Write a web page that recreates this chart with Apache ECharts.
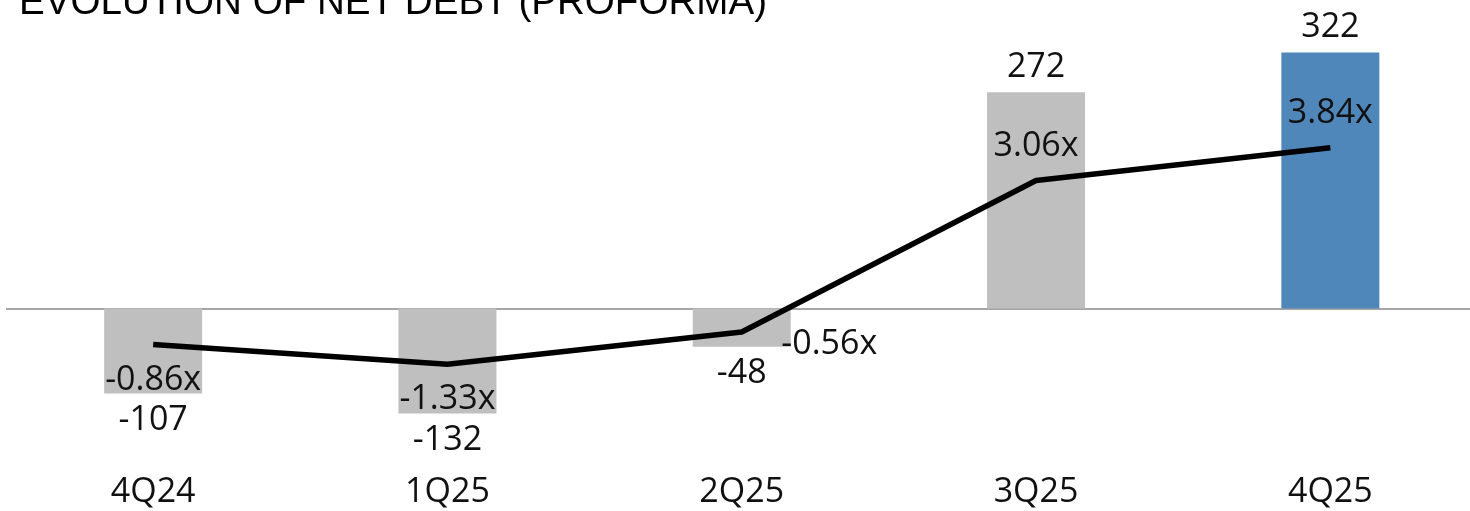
<!DOCTYPE html>
<html>
<head>
<meta charset="utf-8">
<script src="https://cdn.jsdelivr.net/npm/echarts@6/dist/echarts.min.js"></script>
<style>
  html, body { margin: 0; padding: 0; background: #fff; }
  #chart { width: 1470px; height: 511px; }
</style>
</head>
<body>
<div id="chart"></div>
<script>
// quarters and values
const quarters = ['4Q24', '1Q25', '2Q25', '3Q25', '4Q25']
const netDebt = [-107, -132, -48, 272, 322]
const leverage = [-0.86, -1.33, -0.56, 3.06, 3.84]

const chart = echarts.init(document.getElementById('chart'))
const textFont = '"Open Sans", "Noto Sans", sans-serif'

// positive bars get label above, negative below; last bar highlighted
const barData = netDebt.map((v, i) => ({
  value: v,
  itemStyle: { color: i === netDebt.length - 1 ? '#4F87BB' : '#BFBFBF' },
  label: v >= 0 ? { position: 'top', distance: 8 } : { position: 'bottom', distance: 10 },
}))

// ratio labels: below for the first two, right of the point for 2Q25, above after
const lineData = leverage.map((v, i) => {
  let label
  if (i < 2) label = { position: 'bottom', distance: 18 }
  else if (i === 2) label = { position: 'right', distance: 39, offset: [0, 12] }
  else label = { position: 'top', distance: 17 }
  return { value: v, label }
})

const option = {
  animation: false,
  graphic: [
    {
      type: 'text',
      left: 19,
      top: -16,
      style: {
        text: 'EVOLUTION OF NET DEBT (PROFORMA)',
        font: '38.6px "Liberation Sans", Arial, sans-serif',
        fill: '#000',
      },
    },
  ],
  grid: { left: 6, width: 1471.5, top: 30.25, bottom: 83.25, outerBoundsMode: 'none', containLabel: false },
  xAxis: {
    type: 'category',
    data: quarters,
    axisLine: { show: false, onZero: false },
    axisTick: { show: false },
    axisLabel: { margin: 48, fontSize: 34, fontFamily: textFont, color: '#111' },
  },
  yAxis: [
    { type: 'value', min: -150, max: 350, show: false, splitLine: { show: false } },
    { type: 'value', min: -2.85, max: 6.65, show: false, splitLine: { show: false } },
  ],
  series: [
    {
      name: 'Net debt',
      type: 'bar',
      barWidth: 98,
      data: barData,
      label: {
        show: true,
        fontSize: 34,
        fontFamily: textFont,
        color: '#111',
      },
      markLine: {
        silent: true,
        symbol: 'none',
        label: { show: false },
        lineStyle: { color: '#A6A6A6', width: 2, type: 'solid' },
        data: [{ yAxis: 0 }],
        z: 1,
      },
      z: 2,
    },
    {
      name: 'Leverage',
      type: 'line',
      yAxisIndex: 1,
      data: lineData,
      symbol: 'circle',
      symbolSize: 1,
      showSymbol: true,
      itemStyle: { color: 'rgba(0,0,0,0)' },
      lineStyle: { color: '#000', width: 5.5 },
      label: {
        show: true,
        fontSize: 34,
        fontFamily: textFont,
        color: '#111',
        formatter: p => p.value.toFixed(2) + 'x',
      },
      z: 5,
    },
  ],
}

chart.setOption(option)
</script>
</body>
</html>
